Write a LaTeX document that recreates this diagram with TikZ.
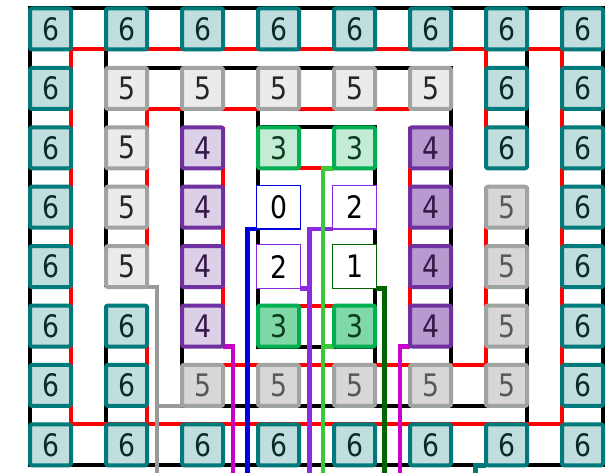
\documentclass[tikz,border=0pt]{standalone}
\usepackage{fontspec}
\setmainfont{DejaVu Sans}[FakeStretch=0.86]
\usetikzlibrary{backgrounds}

\definecolor{sixdraw}{RGB}{0,122,122}
\definecolor{sixfill}{RGB}{192,222,222}
\definecolor{sixtext}{RGB}{12,42,42}
\definecolor{fivedraw}{RGB}{160,164,160}
\definecolor{fivefilla}{RGB}{235,235,235}
\definecolor{fivefillb}{RGB}{216,214,216}
\definecolor{fourdraw}{RGB}{112,48,160}
\definecolor{fourfilla}{RGB}{220,207,232}
\definecolor{fourfillb}{RGB}{184,154,208}
\definecolor{fourtext}{RGB}{50,25,70}
\definecolor{threedraw}{RGB}{0,176,80}
\definecolor{threefilla}{RGB}{196,236,212}
\definecolor{threefillb}{RGB}{128,216,168}
\definecolor{threetext}{RGB}{10,60,30}
\definecolor{zeroblue}{RGB}{0,0,225}
\definecolor{twopurple}{RGB}{138,43,226}
\definecolor{onegreen}{RGB}{0,100,0}
\definecolor{limeline}{RGB}{60,200,60}
\definecolor{magline}{RGB}{200,0,200}

\begin{document}
\begin{tikzpicture}[x=1pt,y=-1pt,
  box/.style={rectangle,minimum size=41pt,inner sep=0pt,outer sep=0pt,
    line width=4pt,rounded corners=2pt,font=\fontsize{31}{31}\selectfont},
  slot/.style={rectangle,minimum size=43.6pt,inner sep=0pt,outer sep=0pt,
    line width=1.2pt,fill=white,font=\fontsize{31}{31}\selectfont},
  c6a/.style={box,draw=sixdraw,fill=sixfill,text=sixtext},
  c5a/.style={box,draw=fivedraw,fill=fivefilla,text=black!85},
  c5b/.style={box,draw=fivedraw,fill=fivefillb,text=black!65},
  c4a/.style={box,draw=fourdraw,fill=fourfilla,text=fourtext},
  c4b/.style={box,draw=fourdraw,fill=fourfillb,text=fourtext},
  c3a/.style={box,draw=threedraw,fill=threefilla,text=threetext},
  c3b/.style={box,draw=threedraw,fill=threefillb,text=threetext},
  c0a/.style={slot,draw=zeroblue},
  c2a/.style={slot,draw=twopurple},
  c1a/.style={slot,draw=onegreen},
  wallb/.style={line width=4pt,black},
  wallr/.style={line width=4pt,red},
  exit/.style={line width=4.5pt}]

  \useasboundingbox (0,0) rectangle (613,473);

  \foreach \row [count=\r] in {
    {6/a,6/a,6/a,6/a,6/a,6/a,6/a,6/a},
    {6/a,5/a,5/a,5/a,5/a,5/a,6/a,6/a},
    {6/a,5/a,4/a,3/a,3/a,4/b,6/a,6/a},
    {6/a,5/a,4/a,0/a,2/a,4/b,5/b,6/a},
    {6/a,5/a,4/a,2/a,1/a,4/b,5/b,6/a},
    {6/a,6/a,4/a,3/b,3/b,4/b,5/b,6/a},
    {6/a,6/a,5/b,5/b,5/b,5/b,5/b,6/a},
    {6/a,6/a,6/a,6/a,6/a,6/a,6/a,6/a}} {
    \foreach \v/\s [count=\c] in \row {
      \pgfmathsetmacro\px{50.5+76*(\c-1)}
      \pgfmathsetmacro\py{29+59.4*(\r-1)}
      \node[c\v\s] (n-\r-\c) at (\px,\py) {\v};
    }
  }

  \begin{scope}[on background layer]
    \draw[wallb] (n-1-1.north west) rectangle (n-8-8.south east);
    \draw[wallb] (n-1-2.south west) -- (n-5-2.south west);
    \draw[wallb] (n-2-2.north west) -- (n-2-6.north east) -- (n-7-6.north east);
    \draw[wallb] (n-6-2.north west) -- (n-8-2.north west);
    \draw[wallb] (n-1-7.south east) -- (n-3-7.south east);
    \draw[wallb] (n-8-7.north east) -- (n-4-7.north east);
    \draw[wallb] (n-7-7.south east) -- (n-7-3.south west) -- (n-2-3.south west);
    \draw[wallb] (n-2-4.south west) -- (n-6-4.south west) -- (n-6-5.south east);
    \draw[wallb] (n-7-5.north east) -- (n-3-5.north east) -- (n-3-4.north west);

    \draw[wallr] (n-1-1.south east) rectangle (n-8-8.north west);
    \draw[wallr] (n-5-2.south east) -- (n-2-2.south east) -- (n-2-6.south west);
    \draw[wallr] (n-4-7.north west) -- (n-7-7.north west) -- (n-7-3.north east);
    \draw[wallr] (n-6-2.north east) -- (n-8-2.north east);
    \draw[wallr] (n-3-7.south west) -- (n-1-7.south west);
    \draw[wallr] (n-3-3.north east) -- (n-6-3.south east);
    \draw[wallr] (n-6-6.south west) -- (n-3-6.north west);
    \draw[wallr] (n-3-4.south west) -- (n-3-5.south east);
    \draw[wallr] (n-6-5.north east) -- (n-6-4.north west);

    \coordinate (out6) at (475.5,473);
    \coordinate (out5) at (157,473);
    \coordinate (out4a) at (233,473);
    \coordinate (out4b) at (400,473);
    \coordinate (out3) at (323,473);
    \coordinate (out2) at (309.5,473);
    \coordinate (out1) at (384.5,473);
    \coordinate (out0) at (247.5,473);

    \draw[exit,sixdraw] (n-8-7.south west) -| (out6);
    \draw[exit,line width=3.3pt,black!40] (n-5-2.south east) -| (out5);
    \draw[exit,line width=3.3pt,black!40] (n-7-3.south west) -| (out5);
    \draw[exit,magline] (n-6-3.south east) -| (out4a);
    \draw[exit,magline] (n-6-6.south west) -| (out4b);
    \draw[exit,zeroblue] (n-4-4.south west) -| (out0);
    \draw[exit,twopurple] (n-4-5.south west) -| (out2);
    \draw[exit,twopurple] (n-5-4.south east) -| (out2);
    \draw[exit,limeline] (n-3-5.south west) -| (out3);
    \draw[exit,limeline] (n-6-5.south west) -| (out3);
    \draw[exit,onegreen] (n-5-5.south east) -| (out1);
  \end{scope}
\end{tikzpicture}
\end{document}
